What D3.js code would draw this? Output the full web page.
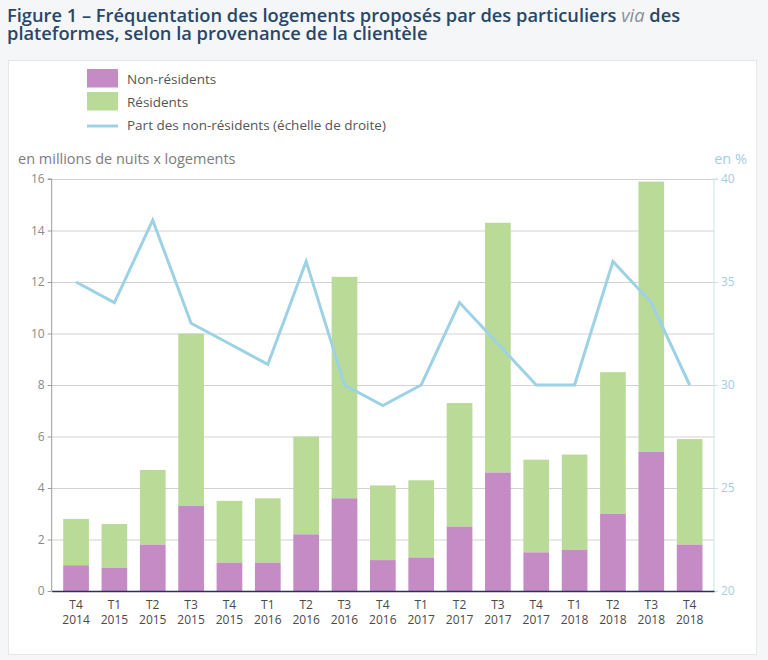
<!DOCTYPE html>
<html><head><meta charset="utf-8">
<script src="https://cdn.jsdelivr.net/npm/d3@7"></script>
<style>
body{margin:0;background:#f5f6f7;}
svg{display:block;font-family:"Open Sans",sans-serif;}
</style></head><body>
<svg id="c" width="768" height="660"></svg>
<script>
const quarters = ["T4","T1","T2","T3","T4","T1","T2","T3","T4","T1","T2","T3","T4","T1","T2","T3","T4"];
const years = ["2014","2015","2015","2015","2015","2016","2016","2016","2016","2017","2017","2017","2017","2018","2018","2018","2018"];
const nonResidents = [1.0,0.9,1.8,3.3,1.1,1.1,2.2,3.6,1.2,1.3,2.5,4.6,1.5,1.6,3.0,5.4,1.8];
const totals = [2.8,2.6,4.7,10.0,3.5,3.6,6.0,12.2,4.1,4.3,7.3,14.3,5.1,5.3,8.5,15.9,5.9];
const shareNonResidents = [35,34,38,33,32,31,36,30,29,30,34,32,30,30,36,34,30];
const leftTicks = [0,2,4,6,8,10,12,14,16];
const rightTicks = [20,25,30,35,40];

const purple = "#c48bc5", green = "#badb98", blue = "#9dd2e5";
const svg = d3.select("#c");

// panel
svg.append("rect").attr("x",8.5).attr("y",60.5).attr("width",748).attr("height",594)
  .attr("fill","#fff").attr("stroke","#e6e6e6");

// title
const t = svg.append("text").attr("fill","#284769").attr("font-weight",600).attr("font-size",18.3);
t.append("tspan").attr("x",7).attr("y",22).text("Figure 1 – Fréquentation des logements proposés par des particuliers ");
t.append("tspan").attr("font-style","italic").attr("font-weight",400).attr("fill","#8a8f96").text("via");
t.append("tspan").text(" des");
svg.append("text").attr("fill","#284769").attr("font-weight",600).attr("font-size",18.3)
  .attr("x",7).attr("y",40).text("plateformes, selon la provenance de la clientèle");

const x0 = 51.7, x1 = 714, yTop = 179, yBot = 591;
const ids = quarters.map((q,i)=>i);
const x = d3.scaleBand().domain(ids).range([x0,x1]).paddingInner(0.33).paddingOuter(0.3);
const y = d3.scaleLinear().domain([0,16]).range([yBot,yTop]);
const y2 = d3.scaleLinear().domain([20,40]).range([yBot,yTop]);

// grid
svg.append("g").selectAll("line").data(leftTicks.slice(1)).join("line")
  .attr("x1",x0).attr("x2",x1).attr("y1",d=>y(d)+0.5).attr("y2",d=>y(d)+0.5)
  .attr("stroke","#d2d2d2").attr("stroke-width",1);

// left axis
const gl = svg.append("g").attr("transform",`translate(${x0},0)`)
  .call(d3.axisLeft(y).tickValues(leftTicks).tickSize(4).tickPadding(3));
gl.select(".domain").attr("stroke","#9a9a9a").attr("d",`M-4,${yTop}H0V${yBot}`);
gl.selectAll(".tick line").attr("stroke","#9a9a9a");
gl.selectAll(".tick text").attr("fill","#8a8a8a").attr("font-size",12).attr("font-family","Open Sans");

// right axis
const gr = svg.append("g").attr("transform",`translate(${x1},0)`)
  .call(d3.axisRight(y2).tickValues(rightTicks).tickSize(4).tickPadding(3));
gr.select(".domain").attr("stroke","#c4e3ee").attr("d",`M4,${yTop}H0V${yBot}`);
gr.selectAll(".tick line").attr("stroke","#c4e3ee");
gr.selectAll(".tick text").attr("fill","#9fd0e2").attr("font-size",12).attr("font-family","Open Sans");

// bars
svg.append("g").selectAll("rect").data(ids).join("rect")
  .attr("x",i=>x(i)).attr("width",x.bandwidth())
  .attr("y",i=>y(totals[i])).attr("height",i=>y(nonResidents[i])-y(totals[i]))
  .attr("fill",green);
svg.append("g").selectAll("rect").data(ids).join("rect")
  .attr("x",i=>x(i)).attr("width",x.bandwidth())
  .attr("y",i=>y(nonResidents[i])).attr("height",i=>yBot-y(nonResidents[i]))
  .attr("fill",purple);

// bottom axis line
const gb = svg.append("g").attr("transform",`translate(0,${yBot})`)
  .call(d3.axisBottom(x).tickSize(0).tickFormat(""));
gb.select(".domain").attr("stroke","#2e2f5a").attr("stroke-width",1.5);

// x labels (two separate rows)
svg.append("g").selectAll("text").data(ids).join("text")
  .attr("text-anchor","middle").attr("fill","#4a4a4a").attr("font-size",12)
  .attr("x",i=>x(i)+x.bandwidth()/2).attr("y",609).text(i=>quarters[i]);
svg.append("g").selectAll("text").data(ids).join("text")
  .attr("text-anchor","middle").attr("fill","#4a4a4a").attr("font-size",12)
  .attr("x",i=>x(i)+x.bandwidth()/2).attr("y",624).text(i=>years[i]);

// line
svg.append("path").datum(ids)
  .attr("d",d3.line().x(i=>x(i)+x.bandwidth()/2).y(i=>y2(shareNonResidents[i])))
  .attr("fill","none").attr("stroke",blue).attr("stroke-width",3).attr("stroke-linejoin","miter");

// axis titles
svg.append("text").attr("x",18).attr("y",164).attr("fill","#7d7d7d").attr("font-size",14.5)
  .text("en millions de nuits x logements");
svg.append("text").attr("x",747).attr("y",164).attr("text-anchor","end").attr("fill","#9fd0e2").attr("font-size",14.5)
  .text("en %");

// legend
const leg = [
  {label:"Non-résidents", type:"rect", color:purple},
  {label:"Résidents", type:"rect", color:green},
  {label:"Part des non-résidents (échelle de droite)", type:"line", color:blue}
];
const lg = svg.append("g");
leg.forEach((d,i)=>{
  const cy = 78 + i*23;
  if(d.type==="rect") lg.append("rect").attr("x",87).attr("y",cy-9).attr("width",31).attr("height",18.5).attr("fill",d.color);
  else lg.append("line").attr("x1",87).attr("x2",118).attr("y1",cy+2).attr("y2",cy+2).attr("stroke",d.color).attr("stroke-width",3);
  lg.append("text").attr("x",127).attr("y",cy+6).attr("fill","#555").attr("font-size",13.5).text(d.label);
});
</script>
</body></html>
